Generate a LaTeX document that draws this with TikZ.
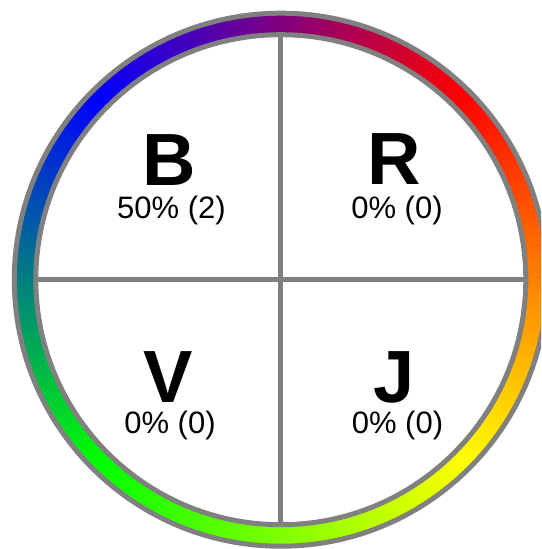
\documentclass[tikz,border=0pt]{standalone}
\usepackage{fontspec}
\setmainfont{Liberation Sans}
\definecolor{c0}{RGB}{255,0,0}
\definecolor{c1}{RGB}{255,255,0}
\definecolor{c2}{RGB}{0,255,0}
\definecolor{c3}{RGB}{0,0,255}
\definecolor{c4}{RGB}{255,0,0}
\definecolor{ringgray}{RGB}{128,128,128}
\tikzset{
  big/.style={inner sep=0pt, anchor=base, font=\fontsize{74}{74}\selectfont\bfseries},
  small/.style={inner sep=0pt, anchor=base, font=\fontsize{31}{31}\selectfont},
  grayline/.style={draw=ringgray, line width=5pt},
}
\begin{document}
\begin{tikzpicture}[x=1pt,y=1pt]
\useasboundingbox (0,0) rectangle (541,-549);
\clip (0,0) rectangle (541,-549);
\fill[white] (0,0) rectangle (541,-549);
\coordinate (c) at (280.8,-279.7);
\begin{scope}[shift={(c)}]
  \foreach \i in {0,...,359}{
    \pgfmathtruncatemacro\k{floor(\i/90)}
    \pgfmathtruncatemacro\kk{\k+1}
    \pgfmathsetmacro\t{100*(mod(\i,90)+0.5)/90}
    \pgfmathsetmacro\aa{45-\i+0.4}
    \pgfmathsetmacro\ab{45-\i-1.4}
    \fill[c\kk!\t!c\k] (\aa:245) arc[start angle=\aa, end angle=\ab, radius=245]
      -- (\ab:267) arc[start angle=\ab, end angle=\aa, radius=267] -- cycle;
  }
  \draw[grayline] (0,0) circle[radius=266.5];
  \draw[grayline, fill=white] (0,0) circle[radius=245];
  \coordinate (top) at (0,245);
  \coordinate (bot) at (0,-245);
  \coordinate (lft) at (-245,0);
  \coordinate (rgt) at (245,0);
\end{scope}
\draw[grayline] (top) -- (bot);
\draw[grayline] (lft) -- (rgt);
\node[big] (B) at (169.5,-185) {B};
\node[small] (Bv) at (171.5,-218) {50\% (2)};
\node[big] (R) at (394.5,-184) {R};
\node[small] (Rv) at (397,-218) {0\% (0)};
\node[big] (V) at (168.5,-402) {V};
\node[small] (Vv) at (170,-433) {0\% (0)};
\node[big] (J) at (394.5,-402) {J};
\node[small] (Jv) at (397.5,-433) {0\% (0)};
\end{tikzpicture}
\end{document}
